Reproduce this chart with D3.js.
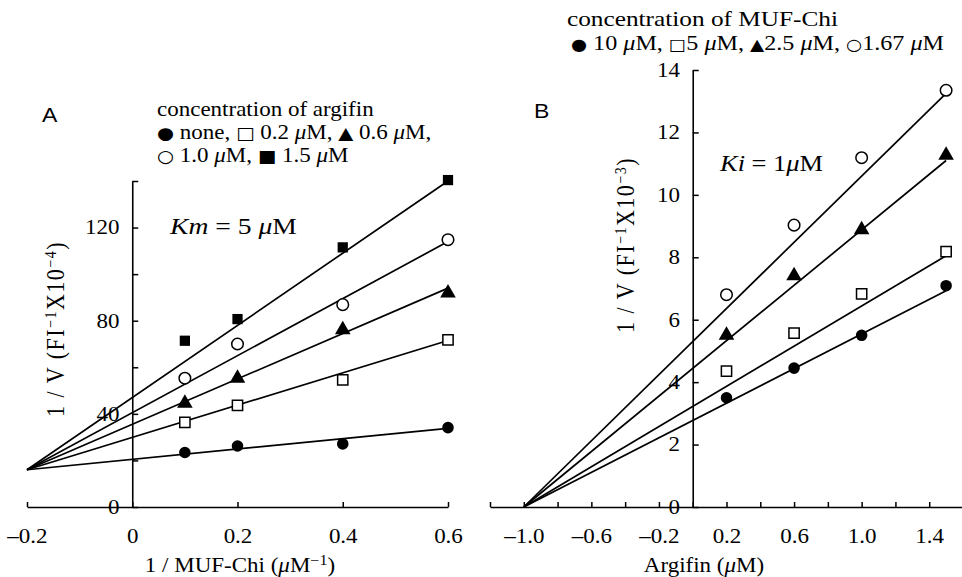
<!DOCTYPE html>
<html>
<head>
<meta charset="utf-8">
<script src="https://cdn.jsdelivr.net/npm/d3@7"></script>
<style>
  body { margin: 0; background: #fff; }
  text { font-family: "Liberation Serif", "Times New Roman", serif; fill: #000; }
</style>
</head>
<body>
<svg id="chart"></svg>
<script>
// panel A: Lineweaver-Burk, 1/[MUF-Chi] vs 1/V
var invSubstrate = [0.1, 0.2, 0.4, 0.6];
var aNone = [23.4, 26.2, 27.1, 34.1];
var a02 = [36.3, 43.6, 54.6, 71.8];
var a06 = [44.6, 55.3, 76.1, 91.9];
var a10 = [55.3, 70.0, 86.9, 114.8];
var a15 = [71.4, 80.7, 111.5, 140.4];
var fitXA = [-0.2, 0.6];
var fitNone = [16, 33.8];
var fit02 = [16, 71.5];
var fit06 = [16, 94];
var fit10 = [16, 114];
var fit15 = [16, 140];
var xTicksA = [-0.2, 0, 0.2, 0.4, 0.6];
var yTicksA = [0, 20, 40, 60, 80, 100, 120, 140];
var yLabelsA = [0, 40, 80, 120];

// panel B: Dixon plot, argifin vs 1/V
var argifin = [0.2, 0.6, 1.0, 1.5];
var b10 = [3.5, 4.45, 5.5, 7.09];
var b5 = [4.35, 5.57, 6.83, 8.18];
var b25 = [5.5, 7.41, 8.88, 11.27];
var b167 = [6.8, 9.03, 11.19, 13.35];
var fitXB = [-1.0, 1.5];
var fitB10 = [0, 6.93];
var fitB5 = [0, 8.05];
var fitB25 = [0, 11.1];
var fitB167 = [0, 13.25];
var xTicksB = [-1.2, -1.0, -0.8, -0.6, -0.4, -0.2, 0, 0.2, 0.4, 0.6, 0.8, 1.0, 1.2, 1.4];
var xLabelsB = [-1.0, -0.6, -0.2, 0.2, 0.6, 1.0, 1.4];
var yTicksB = [0, 2, 4, 6, 8, 10, 12, 14];

var width = 962, height = 577;
var sx = 1.15; // the scan is a bit wider than tall, so text is stretched a bit

var svg = d3.select("#chart")
            .attr("width", width)
            .attr("height", height)

var seriesA = [
    {vals: aNone, fit: fitNone, sym: d3.symbolCircle, filled: true},
    {vals: a02, fit: fit02, sym: d3.symbolSquare, filled: false},
    {vals: a06, fit: fit06, sym: d3.symbolTriangle, filled: true},
    {vals: a10, fit: fit10, sym: d3.symbolCircle, filled: false},
    {vals: a15, fit: fit15, sym: d3.symbolSquare, filled: true}
]
var seriesB = [
    {vals: b10, fit: fitB10, sym: d3.symbolCircle, filled: true},
    {vals: b5, fit: fitB5, sym: d3.symbolSquare, filled: false},
    {vals: b25, fit: fitB25, sym: d3.symbolTriangle, filled: true},
    {vals: b167, fit: fitB167, sym: d3.symbolCircle, filled: false}
]

var symSize = {}
symSize[d3.symbolCircle] = 120
symSize[d3.symbolSquare] = 120
symSize[d3.symbolTriangle] = 105

function fmt(d) {
    if (d === 0) return "0"
    return (d < 0 ? "\u2013" : "") + Math.abs(d).toFixed(1)
}

function styleTicks(g, size) {
    g.selectAll("text")
     .attr("transform", "scale(" + sx + ",1)")
     .style("font-size", size + "px")
     .style("font-family", '"Liberation Serif", "Times New Roman", serif')
    g.selectAll("line").attr("stroke", "#000").attr("stroke-width", 1.5)
    g.select(".domain").attr("stroke", "#000").attr("stroke-width", 1.6)
}

function drawPanel(xScale, yScale, series, xData, fitX, xTicks, xFormat, yTicks, yFormat) {
    var g = svg.append("g")

    var xAxisGen = d3.axisBottom(xScale)
                     .tickValues(xTicks)
                     .tickFormat(xFormat)
                     .tickSizeInner(-5)
                     .tickSizeOuter(0)
                     .tickPadding(22)
    var xAxis = g.append("g")
                 .attr("transform", "translate(0," + yScale(0) + ")")
                 .call(xAxisGen)
    styleTicks(xAxis, 20)

    var yAxisGen = d3.axisLeft(yScale)
                     .tickValues(yTicks)
                     .tickFormat(yFormat)
                     .tickSizeInner(-6)
                     .tickSizeOuter(0)
                     .tickPadding(11)
    var yAxis = g.append("g")
                 .attr("transform", "translate(" + xScale(0) + ",0)")
                 .call(yAxisGen)
    styleTicks(yAxis, 20)

    var line = d3.line()
                 .x(d => xScale(d[0]))
                 .y(d => yScale(d[1]))

    g.append("g")
     .selectAll("path")
     .data(series)
     .enter()
     .append("path")
     .attr("d", s => line(d3.zip(fitX, s.fit)))
     .attr("stroke", "#000")
     .attr("stroke-width", 1.7)
     .attr("fill", "none")

    series.forEach(s => {
        g.append("g")
         .selectAll("path")
         .data(d3.zip(xData, s.vals))
         .enter()
         .append("path")
         .attr("transform", d => "translate(" + xScale(d[0]) + "," + yScale(d[1]) + ")")
         .attr("d", d3.symbol().type(s.sym).size(symSize[s.sym]))
         .attr("fill", s.filled ? "#000" : "#fff")
         .attr("stroke", "#000")
         .attr("stroke-width", s.filled ? 0 : 1.5)
    })
}

var xA = d3.scaleLinear().domain([-0.2, 0.6]).range([27, 448])
var yA = d3.scaleLinear().domain([0, 140]).range([507, 181])
var xB = d3.scaleLinear().domain([-1.2, 1.6]).range([490, 963])
var yB = d3.scaleLinear().domain([0, 14]).range([507, 70])

drawPanel(xA, yA, seriesA, invSubstrate, fitXA, xTicksA, fmt,
          yTicksA, d => yLabelsA.includes(d) ? String(d) : "")
drawPanel(xB, yB, seriesB, argifin, fitXB, xTicksB,
          d => xLabelsB.some(v => Math.abs(v - d) < 1e-9) ? fmt(d) : "",
          yTicksB, d => String(d))

// text helper, stretched like the scan
function txt(x, y, size, anchor) {
    return svg.append("text")
              .attr("transform", "translate(" + x + "," + y + ") scale(" + sx + ",1)")
              .attr("text-anchor", anchor || "start")
              .style("font-size", size + "px")
}
function add(t, s, opts) {
    var sp = t.append("tspan").text(s)
    if (opts && opts.italic) sp.style("font-style", "italic")
    if (opts && opts.sym) sp.style("font-family", '"DejaVu Sans", sans-serif').style("font-size", opts.sym + "px")
    if (opts && opts.sup) sp.attr("dy", "-7px").style("font-size", "14px")
    if (opts && opts.down) sp.attr("dy", "7px")
    return t
}

// panel letters
txt(42, 122, 20).style("font-family", '"Liberation Sans", Arial, sans-serif').text("A")
txt(534, 118, 20).style("font-family", '"Liberation Sans", Arial, sans-serif').text("B")

// legend A
txt(157, 116, 20).text("concentration of argifin")
var la2 = txt(157, 139, 20)
add(la2, "\u25CF", {sym: 17}); add(la2, " none, ")
add(la2, "\u25A1", {sym: 17}); add(la2, " 0.2 "); add(la2, "\u03BC", {italic: true}); add(la2, "M, ")
add(la2, "\u25B2", {sym: 17}); add(la2, " 0.6 "); add(la2, "\u03BC", {italic: true}); add(la2, "M,")
var la3 = txt(157, 162, 20)
add(la3, "\u25CB", {sym: 17}); add(la3, " 1.0 "); add(la3, "\u03BC", {italic: true}); add(la3, "M, ")
add(la3, "\u25A0", {sym: 17}); add(la3, " 1.5 "); add(la3, "\u03BC", {italic: true}); add(la3, "M")

// legend B
txt(567, 26, 22).text("concentration of MUF-Chi")
var lb2 = txt(571, 50, 21)
add(lb2, "\u25CF", {sym: 16}); add(lb2, " 10 "); add(lb2, "\u03BC", {italic: true}); add(lb2, "M, ")
add(lb2, "\u25A1", {sym: 16}); add(lb2, "5 "); add(lb2, "\u03BC", {italic: true}); add(lb2, "M, ")
add(lb2, "\u25B2", {sym: 16}); add(lb2, "2.5 "); add(lb2, "\u03BC", {italic: true}); add(lb2, "M, ")
add(lb2, "\u25CB", {sym: 16}); add(lb2, "1.67 "); add(lb2, "\u03BC", {italic: true}); add(lb2, "M")

// constants
var km = txt(170, 234, 24)
add(km, "Km", {italic: true}); add(km, " = 5 "); add(km, "\u03BC", {italic: true}); add(km, "M")
var ki = txt(720, 171, 23)
add(ki, "Ki", {italic: true}); add(ki, " = 1"); add(ki, "\u03BC", {italic: true}); add(ki, "M")

// axis titles
var xtA = txt(240, 572, 20, "middle")
add(xtA, "1 / MUF-Chi ("); add(xtA, "\u03BC", {italic: true}); add(xtA, "M")
add(xtA, "\u22121", {sup: true}); add(xtA, ")", {down: true})
var xtB = txt(704, 572, 20, "middle")
add(xtB, "Argifin ("); add(xtB, "\u03BC", {italic: true}); add(xtB, "M)")

function ytitle(x, y, power) {
    var t = svg.append("text")
               .attr("transform", "translate(" + x + "," + y + ") scale(" + sx + ",1) rotate(-90)")
               .attr("text-anchor", "middle")
               .style("font-size", "22px")
               .style("letter-spacing", "1.5px")
    add(t, "1 / V  (FI"); add(t, "\u22121", {sup: true}); add(t, "X10", {down: true})
    add(t, "\u2212" + power, {sup: true}); add(t, ")", {down: true})
}
ytitle(64, 329, "4")
ytitle(634, 245, "3")
</script>
</body>
</html>
